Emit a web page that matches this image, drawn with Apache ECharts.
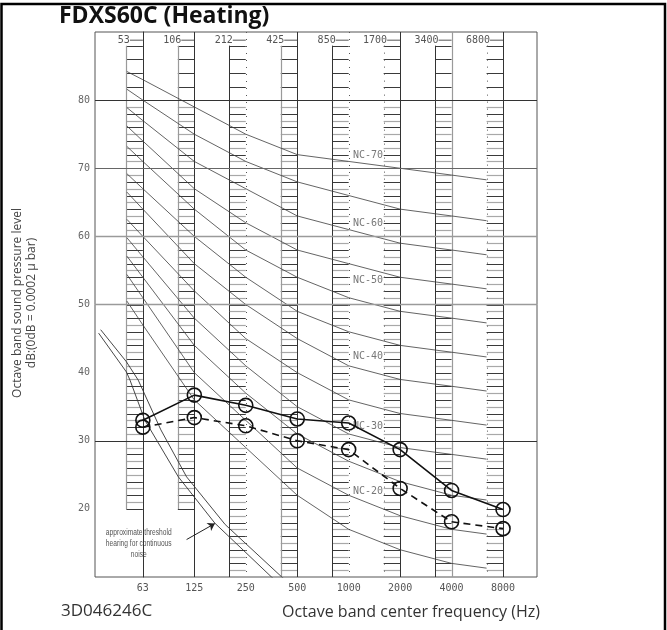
<!DOCTYPE html>
<html><head><meta charset="utf-8">
<script src="https://cdn.jsdelivr.net/npm/echarts@6/dist/echarts.min.js"></script>
<style>html,body{margin:0;padding:0;background:#fff}#c{width:667px;height:630px}</style>
</head><body><div id="c"></div>
<script>
// ---- data ----
const bands = ['63', '125', '250', '500', '1000', '2000', '4000', '8000'];
const bandEdges = ['53', '106', '212', '425', '850', '1700', '3400', '6800'];
const unitSolid = [33.0, 36.7, 35.2, 33.2, 32.6, 28.7, 22.7, 19.9];
const unitDashed = [32.0, 33.4, 32.2, 30.0, 28.7, 23.0, 18.1, 17.1];

// NC curves: positions (band index; first / last = strip edges) and levels
const ncX = [-0.31, 0, 1, 2, 3, 4, 5, 6, 6.68];
const nc15 = [50.5, 47, 36, 29, 22, 17, 14, 12, 11.3];
const nc20 = [54.4, 51, 40, 33, 26, 22, 19, 17, 16.3];
const nc25 = [57.1, 54, 44, 37, 31, 27, 24, 22, 21.3];
const nc30 = [59.8, 57, 48, 41, 35, 31, 29, 28, 27.3];
const nc35 = [62.5, 60, 52, 45, 40, 36, 34, 33, 32.3];
const nc40 = [66.5, 64, 56, 50, 45, 41, 39, 38, 37.3];
const nc45 = [69.2, 67, 60, 54, 49, 46, 44, 43, 42.3];
const nc50 = [73.2, 71, 64, 58, 54, 51, 49, 48, 47.3];
const nc55 = [76.2, 74, 67, 62, 58, 56, 54, 53, 52.3];
const nc60 = [78.9, 77, 71, 67, 63, 61, 59, 58, 57.3];
const nc65 = [81.6, 80, 75, 71, 68, 66, 64, 63, 62.3];
const nc70 = [84.2, 83, 79, 75, 72, 71, 70, 69, 68.3];
const ncCurves = [nc15, nc20, nc25, nc30, nc35, nc40, nc45, nc50, nc55, nc60, nc65, nc70];
const ncLabels = ['NC-70', 'NC-60', 'NC-50', 'NC-40', 'NC-30', 'NC-20'];
const ncLabelX = [4.375, 4.375, 4.375, 4.375, 4.375, 4.375];
const ncLabelY = [71.9, 61.9, 53.6, 42.4, 32.1, 22.5];

// threshold of hearing (two close lines)
const thrAX = [-0.86, -0.32, -0.25, 0.04, 0.69, 1.40, 2.50, 2.8];
const thrA = [45.8, 40.1, 38.9, 33.0, 24.7, 17.9, 10.0, 8.2];
const thrBX = [-0.82, -0.32, -0.09, 0.35, 0.85, 1.60, 2.70, 3.0];
const thrB = [46.3, 41.6, 38.9, 31.6, 24.7, 17.7, 10.0, 8.2];
const thrNote = ['approximate threshold', 'hearing for continuous', 'noise'];
const notePos = [-0.08, 14.9];
const arrowFrom = [0.85, 15.5];
const arrowTo = [1.40, 17.85];

// ruler strips at each band
const stripBottom = [20, 20, 10, 10, 10, 10, 10, 10];
const centerBottom = [20, 10, 10, 10, 10, 10, 10, 10];
const stripLeftKind = ['gray', 'gray', 'dark', 'gray', 'dark', 'dot', 'dark', 'dot'];
const stripCenterKind = ['dark', 'dark', 'dot', 'dark', 'dot', 'dark', 'gray', 'dark'];
const gridLevels = [80, 70, 60, 50, 30];
const gridKinds = ['dark', 'mid', 'gray', 'gray', 'dark'];

// ---- styles ----
const kindStyle = {
  dark: { stroke: '#333', lineWidth: 1 },
  gray: { stroke: '#9a9a9a', lineWidth: 1.2 },
  mid: { stroke: '#666', lineWidth: 1 },
  dot: { stroke: '#555', lineWidth: 1, lineDash: [1, 6] }
};
const STRIP_W = 0.32;
const MONO = 'DejaVu Sans Mono';

const chart = echarts.init(document.getElementById('c'), null, { renderer: 'canvas' });

function stripRender(params, api) {
  const i = api.value(0);
  const bottom = api.value(1);
  const cBottom = api.value(2);
  const cx = api.coord([i, 50])[0];
  const lx = api.coord([i - STRIP_W, 50])[0];
  const ch = [];
  const levels = [];
  for (let d = Math.max(bottom, 11); d <= 80; d++) levels.push(d);
  for (let d = 82; d <= 88; d += 2) levels.push(d);
  levels.forEach(d => {
    const y = Math.round(api.coord([i, d])[1]) + 0.5;
    const st = (d % 2 === 1) ? { stroke: '#a8a8a8', lineWidth: 1.2 } : { stroke: '#3a3a3a', lineWidth: 1 };
    ch.push({ type: 'line', shape: { x1: lx, y1: y, x2: cx, y2: y }, style: st });
  });
  const lk = kindStyle[stripLeftKind[i]];
  const ck = kindStyle[stripCenterKind[i]];
  ch.push({ type: 'line', shape: { x1: Math.round(lx) + 0.5, y1: api.coord([i, 88])[1], x2: Math.round(lx) + 0.5, y2: api.coord([i, bottom])[1] }, style: lk });
  ch.push({ type: 'line', shape: { x1: Math.round(cx) + 0.5, y1: api.coord([i, 90])[1], x2: Math.round(cx) + 0.5, y2: api.coord([i, cBottom])[1] }, style: ck });
  // top edge label with dash
  const ty = api.coord([i, 88.8])[1];
  ch.push({ type: 'line', shape: { x1: cx - 13, y1: ty, x2: cx, y2: ty }, style: { stroke: '#555', lineWidth: 1 } });
  ch.push({ type: 'text', x: cx - 13, y: ty, style: { text: bandEdges[i], fill: '#555', font: '10px "' + MONO + '"', textAlign: 'right', textVerticalAlign: 'middle' } });
  // bottom band label
  const by = api.coord([i, 10])[1] + 11;
  ch.push({ type: 'text', x: cx, y: by, style: { text: bands[i], fill: '#555', font: '10px "' + MONO + '"', textAlign: 'center', textVerticalAlign: 'middle' } });
  return { type: 'group', children: ch };
}

const series = [];
series.push({
  type: 'custom', name: 'strips', silent: true, z: 1, clip: false,
  renderItem: stripRender,
  data: bands.map((b, i) => [i, stripBottom[i], centerBottom[i]]),
  markLine: {
    silent: true, symbol: ['none', 'none'], label: { show: false },
    data: gridLevels.map((v, k) => ({ yAxis: v, lineStyle: { type: 'solid', color: kindStyle[gridKinds[k]].stroke, width: gridKinds[k] === 'gray' ? 1.3 : 1 } }))
  }
});
ncCurves.forEach((vals, k) => {
  series.push({
    type: 'line', name: 'nc' + k, silent: true, z: 2, symbol: 'none',
    lineStyle: { color: '#3c3c3c', width: 0.8 },
    data: ncX.map((x, j) => [x, vals[j]])
  });
});
[[thrAX, thrA], [thrBX, thrB]].forEach((pair, k) => {
  const s = {
    type: 'line', name: 'thr' + k, silent: true, z: 2, symbol: 'none',
    lineStyle: { color: '#333', width: 0.9 },
    data: pair[0].map((x, j) => [x, pair[1][j]])
  };
  if (k === 0) {
    s.markLine = {
      silent: true, symbol: ['none', 'arrow'], symbolSize: 7, label: { show: false },
      lineStyle: { color: '#222', width: 1, type: 'solid' },
      data: [[{ coord: arrowFrom }, { coord: arrowTo }]]
    };
  }
  series.push(s);
});
series.push({
  type: 'scatter', name: 'ncLabels', silent: true, z: 3, symbolSize: 0,
  data: ncLabels.map((t, k) => ({ value: [ncLabelX[k], ncLabelY[k]], name: t })),
  label: { show: true, position: 'inside', formatter: p => p.name, color: '#555', fontFamily: MONO, fontSize: 10 }
});
series.push({
  type: 'line', name: 'solid', z: 5, symbol: 'circle', symbolSize: 14,
  itemStyle: { color: 'rgba(0,0,0,0)', borderColor: '#111', borderWidth: 1.6 },
  lineStyle: { color: '#111', width: 1.6 },
  data: unitSolid.map((v, i) => [i, v])
});
series.push({
  type: 'line', name: 'dashed', z: 5, symbol: 'circle', symbolSize: 14,
  itemStyle: { color: 'rgba(0,0,0,0)', borderColor: '#111', borderWidth: 1.6 },
  lineStyle: { color: '#111', width: 1.6, type: [7, 5] },
  data: unitDashed.map((v, i) => [i, v])
});

chart.setOption({
  animation: false,
  backgroundColor: '#fff',
  grid: { left: 95, top: 32, width: 442, height: 545, show: true, borderColor: '#555', borderWidth: 1 },
  xAxis: { type: 'value', min: -0.93, max: 7.66, axisLine: { show: false }, axisTick: { show: false }, axisLabel: { show: false }, splitLine: { show: false } },
  yAxis: {
    type: 'value', min: 10, max: 90, interval: 10,
    axisLine: { show: true, lineStyle: { color: '#333' } }, axisTick: { show: false }, splitLine: { show: false },
    axisLabel: { formatter: v => (v === 10 || v === 90) ? '' : String(v), color: '#666', fontFamily: MONO, fontSize: 10, margin: 5 }
  },
  series: series
});

const np = chart.convertToPixel({ gridIndex: 0 }, notePos);
chart.setOption({
  graphic: [
    { type: 'polyline', shape: { points: [[1.5, 640], [1.5, 4], [665, 4], [665, 640]] }, style: { stroke: '#000', lineWidth: 2.5, fill: null } },
    { type: 'text', left: 59, top: 5, style: { text: 'FDXS60C (Heating)', font: 'bold 23px "Open Sans"', fill: '#111' } },
    { type: 'text', x: 18, y: 303, rotation: Math.PI / 2, style: { text: 'Octave band sound pressure level', font: '12px "Open Sans"', fill: '#444', textAlign: 'center', textVerticalAlign: 'middle' } },
    { type: 'text', x: 32, y: 303, rotation: Math.PI / 2, style: { text: 'dB:(0dB = 0.0002 \u03bc bar)', font: '12px "Open Sans"', fill: '#444', textAlign: 'center', textVerticalAlign: 'middle' } },
    { type: 'text', x: 61, y: 611, style: { text: '3D046246C', font: '17px "Open Sans"', fill: '#333', textVerticalAlign: 'middle' } },
    { type: 'text', x: 411, y: 612, style: { text: 'Octave band center frequency (Hz)', font: '16px "Open Sans"', fill: '#333', textAlign: 'center', textVerticalAlign: 'middle' } },
    { type: 'text', x: np[0], y: np[1], scaleX: 0.7, style: { text: thrNote.join('\n'), font: '9.5px "Liberation Sans"', lineHeight: 11, fill: '#555', textAlign: 'center', textVerticalAlign: 'middle' } }
  ]
});
</script>
</body></html>
